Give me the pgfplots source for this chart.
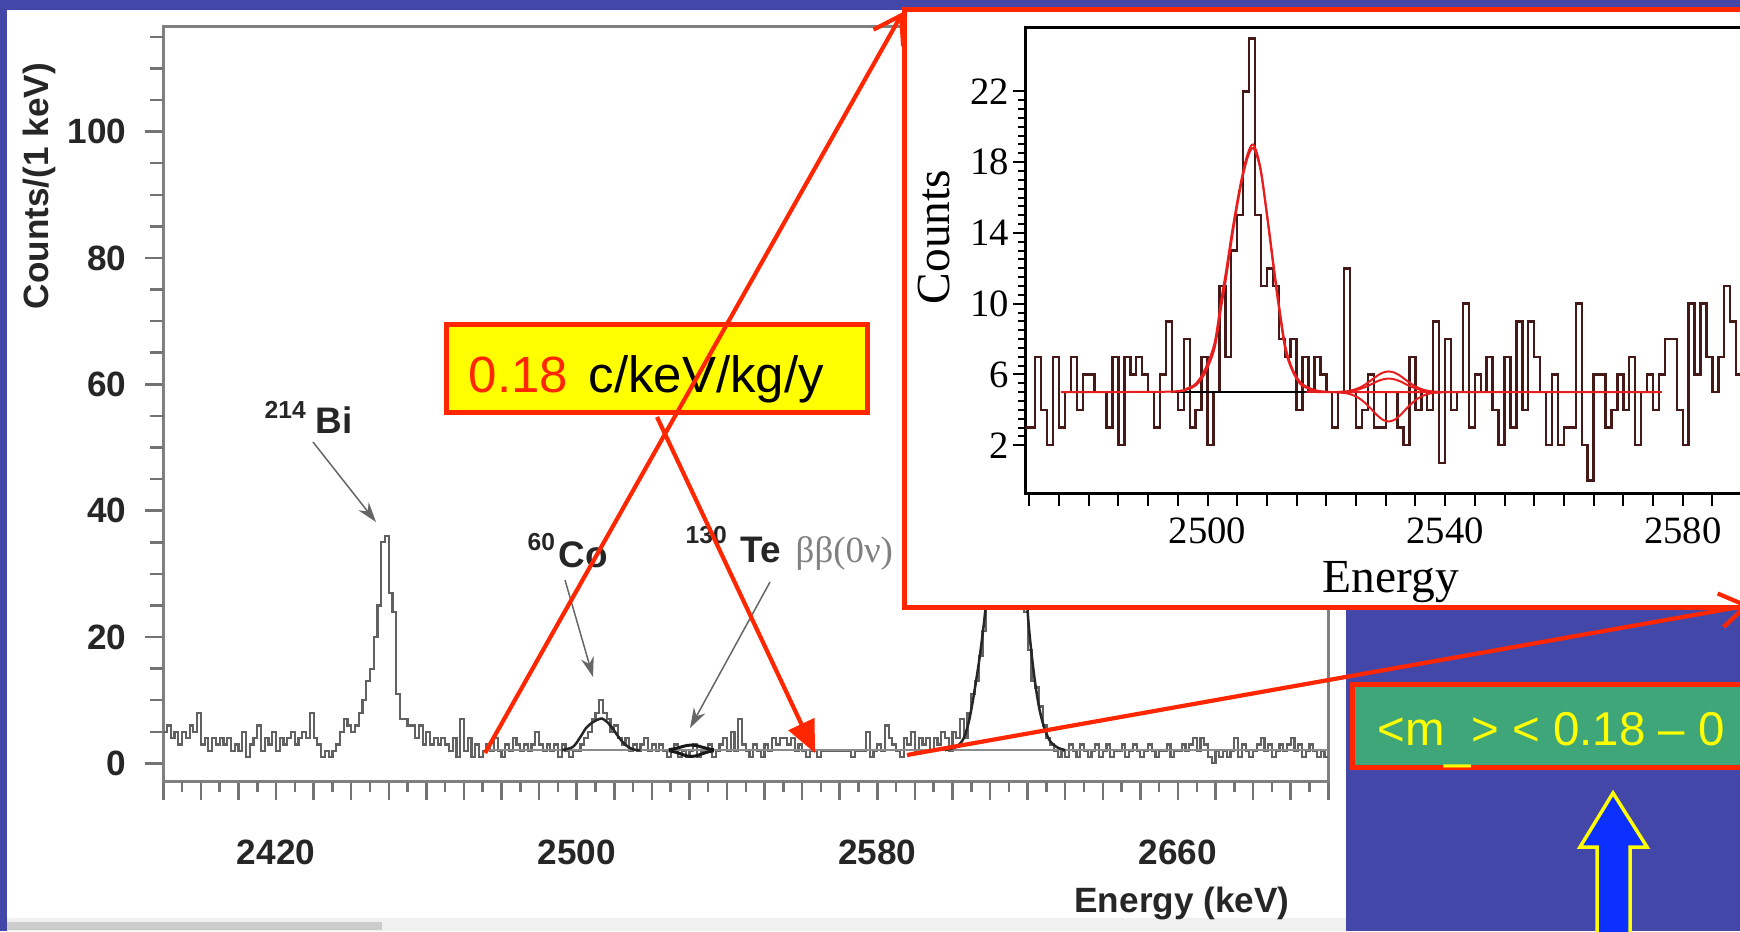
\documentclass[border=0pt]{standalone}
\usepackage{pgfplots}
\pgfplotsset{compat=1.18}
\usepackage{fontspec}
\setmainfont{Liberation Sans}
\newfontfamily\seriffont{Liberation Serif}
\usetikzlibrary{arrows.meta}
\definecolor{slideblue}{RGB}{67,71,168}
\definecolor{hotred}{RGB}{255,38,0}
\definecolor{boxyellow}{RGB}{255,255,0}
\definecolor{boxgreen}{RGB}{63,166,122}
\definecolor{arrowblue}{RGB}{12,48,255}
\definecolor{histbrown}{RGB}{70,25,25}
\definecolor{fitred}{RGB}{232,30,30}
\begin{document}
\begin{tikzpicture}
\useasboundingbox (0,0) rectangle (174mm,93.1mm);
\clip (0,0) rectangle (174mm,93.1mm);
\fill[slideblue] (0,0) rectangle (174mm,93.1mm);
\begin{scope}[x=0.1mm,y=-0.1mm,shift={(0,93.1mm)}]
  \fill[white] (7,10) rectangle (1346,931);
  \fill[black!6] (7,918) rectangle (1346,931);
  \fill[black!20] (7,922) rectangle (382,930);
\end{scope}

% ---------------- main spectrum ----------------
\begin{axis}[
  at={(16.33mm,14.93mm)}, anchor=south west, scale only axis,
  width=116.5mm, height=75.5mm,
  xmin=2390, xmax=2700, ymin=-2.9, ymax=116.6,
  xtick={2420,2500,2580,2660},
  minor xtick={2390,2400,...,2700},
  extra x ticks={2395,2405,...,2695},
  extra x tick labels={},
  extra x tick style={major tick length=1.0mm},
  ytick={0,20,...,100},
  extra y ticks={5,10,15,25,30,35,45,50,55,65,70,75,85,90,95,105,110,115},
  extra y tick labels={},
  extra y tick style={major tick length=1.3mm},
  major tick length=1.8mm, minor tick length=1.8mm,
  tick align=outside, xtick pos=left, ytick pos=left,
  axis line style={black!50, line width=0.3mm},
  tick style={black!55, line width=0.25mm},
  tick label style={font=\bfseries\fontsize{10}{12}\selectfont, text=black!85},
  /pgf/number format/1000 sep={}, /pgf/number format/assume math mode=true,
  yticklabel style={xshift=-0.65mm},
  xticklabel style={yshift=-2.8mm},
  xlabel={Energy (keV)}, ylabel={Counts/(1 keV)},
  xlabel style={at={(axis description cs:0.8744,-0.161)}, anchor=center, font=\bfseries\fontsize{10}{12}\selectfont, text=black!85},
  ylabel style={at={(axis description cs:-0.1067,0.789)}, anchor=center, font=\bfseries\fontsize{10}{12}\selectfont, text=black!85},
]
\addplot[const plot, black!62, line width=0.22mm] coordinates {
(2390,5)(2391,6)(2392,4)(2393,5)(2394,3)(2395,5)(2396,4)(2397,6)(2398,5)(2399,8)
(2400,3)(2401,4)(2402,2)(2403,4)(2404,3)(2405,4)(2406,3)(2407,4)(2408,2)(2409,3)
(2410,2)(2411,5)(2412,1)(2413,3)(2414,4)(2415,6)(2416,2)(2417,4)(2418,3)(2419,5)
(2420,2)(2421,4)(2422,3)(2423,4)(2424,5)(2425,3)(2426,4)(2427,5)(2428,4)(2429,8)
(2430,4)(2431,3)(2432,1)(2433,2)(2434,1)(2435,2)(2436,3)(2437,5)(2438,7)(2439,6)
(2440,5)(2441,6)(2442,8)(2443,10)(2444,13)(2445,15)(2446,20)(2447,25)(2448,35)(2449,36)
(2450,27)(2451,24)(2452,11)(2453,7)(2454,7)(2455,6)(2456,6)(2457,4)(2458,6)(2459,3)
(2460,5)(2461,3)(2462,4)(2463,3)(2464,4)(2465,3)(2466,2)(2467,4)(2468,1)(2469,7)
(2470,2)(2471,4)(2472,1)(2473,3)(2474,1)(2475,2)(2476,3)(2477,2)(2478,4)(2479,2)
(2480,1)(2481,3)(2482,2)(2483,4)(2484,3)(2485,2)(2486,3)(2487,2)(2488,3)(2489,5)
(2490,3)(2491,2)(2492,3)(2493,2)(2494,3)(2495,1)(2496,3)(2497,2)(2498,1)(2499,2)
(2500,2)(2501,3)(2502,4)(2503,5)(2504,7)(2505,8)(2506,10)(2507,8)(2508,7)(2509,5)
(2510,6)(2511,4)(2512,3)(2513,4)(2514,2)(2515,3)(2516,2)(2517,3)(2518,4)(2519,2)
(2520,3)(2521,2)(2522,3)(2523,2)(2524,1)(2525,2)(2526,3)(2527,1)(2528,2)(2529,1)
(2530,2)(2531,3)(2532,1)(2533,2)(2534,2)(2535,3)(2536,1)(2537,2)(2538,3)(2539,4)
(2540,2)(2541,5)(2542,2)(2543,7)(2544,3)(2545,2)(2546,1)(2547,3)(2548,2)(2549,1)
(2550,3)(2551,2)(2552,4)(2553,3)(2554,4)(2555,4)(2556,3)(2557,4)(2558,2)(2559,3)
(2560,2)(2561,1)(2562,2)(2563,2)(2564,1)(2565,2)(2566,2)(2567,2)(2568,2)(2569,2)
(2570,2)(2571,2)(2572,2)(2573,1)(2574,2)(2575,2)(2576,2)(2577,5)(2578,1)(2579,2)
(2580,3)(2581,2)(2582,6)(2583,4)(2584,3)(2585,2)(2586,1)(2587,4)(2588,3)(2589,5)
(2590,2)(2591,4)(2592,3)(2593,4)(2594,2)(2595,4)(2596,3)(2597,5)(2598,4)(2599,2)
(2600,5)(2601,4)(2602,7)(2603,4)(2604,8)(2605,11)(2606,13)(2607,17)(2608,21)(2609,28)
(2610,42)(2611,62)(2612,80)(2613,92)(2614,96)(2615,88)(2616,68)(2617,48)(2618,33)(2619,24)
(2620,18)(2621,13)(2622,12)(2623,9)(2624,6)(2625,4)(2626,3)(2627,2)(2628,1)(2629,2)
(2630,1)(2631,3)(2632,2)(2633,1)(2634,3)(2635,2)(2636,1)(2637,2)(2638,3)(2639,1)
(2640,2)(2641,3)(2642,1)(2643,2)(2644,2)(2645,3)(2646,1)(2647,2)(2648,3)(2649,2)
(2650,1)(2651,2)(2652,3)(2653,2)(2654,1)(2655,2)(2656,2)(2657,3)(2658,1)(2659,2)
(2660,2)(2661,3)(2662,2)(2663,3)(2664,4)(2665,2)(2666,4)(2667,3)(2668,1)(2669,0)
(2670,2)(2671,1)(2672,2)(2673,1)(2674,2)(2675,4)(2676,1)(2677,3)(2678,2)(2679,1)
(2680,2)(2681,3)(2682,4)(2683,2)(2684,3)(2685,1)(2686,2)(2687,3)(2688,2)(2689,3)
(2690,4)(2691,2)(2692,3)(2693,1)(2694,2)(2695,3)(2696,2)(2697,1)(2698,2)(2699,1)(2700,1)};
% flat background of the fit
\addplot[black!45, line width=0.22mm] coordinates {(2476,2.1) (2700,2.1)};
% 60Co fit
\addplot[black!85, line width=0.25mm, smooth] coordinates {(2496,2.1)(2499,2.6)(2501,4.2)(2502.5,5.6)(2504,6.4)(2505.5,6.9)(2506.7,7.1)(2508,6.6)(2509.5,5.6)(2511,4.3)(2512.5,3.2)(2514,2.5)(2515.5,2.15)(2517,2.1)};
% 0nu fit band
\addplot[black!90, line width=0.3mm, smooth] coordinates {(2524.5,2.18)(2525.5,2.26)(2526.5,2.39)(2527.5,2.55)(2528.5,2.72)(2529.5,2.85)(2530.5,2.9)(2531.5,2.85)(2532.5,2.72)(2533.5,2.55)(2534.5,2.39)(2535.5,2.26)(2536.5,2.18)};
\addplot[black!90, line width=0.3mm, smooth] coordinates {(2524.5,2.0)(2525.5,1.9)(2526.5,1.74)(2527.5,1.54)(2528.5,1.33)(2529.5,1.16)(2530.5,1.1)(2531.5,1.16)(2532.5,1.33)(2533.5,1.54)(2534.5,1.74)(2535.5,1.9)(2536.5,2.0)};
% 208Tl fit
\addplot[black!85, line width=0.25mm, smooth] coordinates {(2598,2.1)(2601,2.6)(2603,4)(2604.5,7)(2606,12)(2607.5,18)(2609,26)(2610.5,40)(2612,60)(2614.5,90)(2617,60)(2618.5,40)(2620,24)(2621.5,15)(2623,9)(2624.5,5.5)(2626,3.5)(2628,2.5)(2630,2.1)};
\end{axis}

% ---------------- annotations of the main spectrum ----------------
\begin{scope}[x=0.1mm,y=-0.1mm,shift={(0,93.1mm)}]
  \node[anchor=base west, inner sep=0, font=\bfseries\fontsize{7}{8}\selectfont, text=black!85] at (264,418) {214};
  \node[anchor=base west, inner sep=0, font=\bfseries\fontsize{10.5}{12}\selectfont, text=black!85] at (315,433) {Bi};
  \draw[black!60, line width=0.15mm, -{Stealth[length=2mm,width=1.3mm]}] (313,442) -- (376,522);
  \node[anchor=base west, inner sep=0, font=\bfseries\fontsize{7}{8}\selectfont, text=black!85] at (527,550) {60};
  \node[anchor=base west, inner sep=0, font=\bfseries\fontsize{10.5}{12}\selectfont, text=black!85] at (558,567) {Co};
  \draw[black!60, line width=0.15mm, -{Stealth[length=2mm,width=1.3mm]}] (565,580) -- (593,677);
  \node[anchor=base west, inner sep=0, font=\bfseries\fontsize{7}{8}\selectfont, text=black!85] at (685,543) {130};
  \node[anchor=base west, inner sep=0, font=\bfseries\fontsize{10.5}{12}\selectfont, text=black!85] at (740,562) {Te};
  \node[anchor=base west, inner sep=0, font=\seriffont\fontsize{10.5}{12}\selectfont, text=black!50] at (795,562) {ββ(0ν)};
  \draw[black!60, line width=0.15mm, -{Stealth[length=2mm,width=1.3mm]}] (770,582) -- (690,728);
  % yellow box
  \draw[hotred, line width=0.5mm, fill=boxyellow] (446,324) rectangle (867,412.5);
  \node[anchor=base west, inner sep=0, font=\fontsize{14.5}{17}\selectfont, text=hotred] at (468,392) {0.18};
  \node[anchor=base west, inner sep=0, font=\fontsize{14.5}{17}\selectfont, text=black] at (588,392) {c/keV/kg/y};
  % inset frame
  \draw[hotred, line width=0.55mm, fill=white] (904.5,9.5) rectangle (1770,607.5);
\end{scope}

% ---------------- inset ----------------
\begin{axis}[
  at={(102.54mm,43.75mm)}, anchor=south west, scale only axis,
  width=77.61mm, height=46.58mm,
  xmin=2469.34, xmax=2600, ymin=-0.73, ymax=25.6,
  xtick={2470,2475,...,2600},
  xticklabels={,,,,,,2500,,,,,,,,2540,,,,,,,,2580,,,,},
  ytick={2,6,...,22}, minor y tick num=7,
  major tick length=1.2mm, minor tick length=0.7mm,
  tick align=outside, xtick pos=left, ytick pos=left,
  axis line style={black, line width=0.25mm},
  tick style={black, line width=0.2mm},
  tick label style={font=\seriffont\fontsize{11}{13}\selectfont},
  /pgf/number format/1000 sep={}, /pgf/number format/assume math mode=true,
  yticklabel style={xshift=0.8mm},
  xlabel={Energy}, ylabel={Counts},
  xlabel style={at={(axis description cs:0.4707,-0.19)}, anchor=center, font=\seriffont\fontsize{13.5}{16}\selectfont},
  ylabel style={at={(axis description cs:-0.1178,0.5507)}, anchor=center, font=\seriffont\fontsize{13.5}{16}\selectfont},
]
\addplot[const plot, histbrown, line width=0.24mm] coordinates {
(2469,3)(2470,3)(2471,7)(2472,4)(2473,2)(2474,7)(2475,3)(2476,5)(2477,7)(2478,4)
(2479,6)(2480,6)(2481,5)(2482,5)(2483,3)(2484,7)(2485,2)(2486,7)(2487,6)(2488,7)
(2489,6)(2490,5)(2491,3)(2492,6)(2493,9)(2494,5)(2495,4)(2496,8)(2497,3)(2498,4)
(2499,7)(2500,2)(2501,5)(2502,11)(2503,7)(2504,13)(2505,15)(2506,22)(2507,25)(2508,15)
(2509,11)(2510,12)(2511,11)(2512,8)(2513,7)(2514,8)(2515,4)(2516,7)(2517,5)(2518,7)
(2519,6)(2520,5)(2521,3)(2522,5)(2523,12)(2524,5)(2525,3)(2526,4)(2527,6)(2528,3)
(2529,3)(2530,5)(2531,5)(2532,3)(2533,2)(2534,7)(2535,4)(2536,5)(2537,4)(2538,9)
(2539,1)(2540,8)(2541,4)(2542,5)(2543,10)(2544,3)(2545,6)(2546,5)(2547,7)(2548,4)
(2549,2)(2550,7)(2551,3)(2552,9)(2553,4)(2554,9)(2555,7)(2556,5)(2557,2)(2558,6)
(2559,2)(2560,3)(2561,3)(2562,10)(2563,2)(2564,0)(2565,6)(2566,6)(2567,3)(2568,4)
(2569,6)(2570,4)(2571,7)(2572,2)(2573,5)(2574,6)(2575,4)(2576,6)(2577,8)(2578,8)
(2579,4)(2580,2)(2581,10)(2582,6)(2583,10)(2584,7)(2585,5)(2586,7)(2587,11)(2588,9)
(2589,6)(2590,8)(2591,5)(2592,5)};
\addplot[black, line width=0.25mm] coordinates {(2494.2,5) (2537.5,5)};
\addplot[fitred, line width=0.2mm, smooth] coordinates {(2475.3,5)(2494.2,5.03)(2496.5,5.2)(2498.1,5.5)(2499.6,6.3)(2501.2,7.8)(2502.3,10.2)(2503.1,11.8)(2504.2,14.2)(2505.4,16.5)(2506.6,18.3)(2507.7,19.0)(2508.9,17.7)(2510.0,15.0)(2511.2,11.8)(2512.0,9.8)(2513.1,7.4)(2514.3,6.2)(2515.8,5.4)(2518.2,5.1)(2521.2,5.0)(2576.5,5.0)};
\addplot[fitred, line width=0.2mm, smooth] coordinates {(2494.2,5.02)(2496.5,5.15)(2498.1,5.4)(2499.6,6.1)(2501.2,7.5)(2502.3,9.8)(2503.1,11.4)(2504.2,13.9)(2505.4,16.3)(2506.6,18.1)(2507.7,18.8)(2508.9,17.6)(2510.0,15.1)(2511.2,12.0)(2512.0,10.0)(2513.1,7.6)(2514.3,6.3)(2515.8,5.5)(2518.2,5.1)(2521.2,5.0)};
\addplot[fitred, line width=0.2mm, smooth] coordinates {(2521.5,5.0)(2522.5,5.02)(2523.5,5.05)(2524.5,5.12)(2525.5,5.24)(2526.5,5.42)(2527.5,5.66)(2528.5,5.91)(2529.5,6.1)(2530.5,6.17)(2531.5,6.1)(2532.5,5.91)(2533.5,5.66)(2534.5,5.42)(2535.5,5.24)(2536.5,5.12)(2537.5,5.05)(2538.5,5.02)(2539.5,5.0)};
\addplot[fitred, line width=0.2mm, smooth] coordinates {(2521.5,5.0)(2522.5,5.01)(2523.5,5.03)(2524.5,5.08)(2525.5,5.16)(2526.5,5.28)(2527.5,5.43)(2528.5,5.6)(2529.5,5.72)(2530.5,5.77)(2531.5,5.72)(2532.5,5.6)(2533.5,5.43)(2534.5,5.28)(2535.5,5.16)(2536.5,5.08)(2537.5,5.03)(2538.5,5.01)(2539.5,5.0)};
\addplot[fitred, line width=0.2mm, smooth] coordinates {(2521.5,5.0)(2522.5,4.97)(2523.5,4.93)(2524.5,4.83)(2525.5,4.66)(2526.5,4.4)(2527.5,4.07)(2528.5,3.71)(2529.5,3.44)(2530.5,3.34)(2531.5,3.44)(2532.5,3.71)(2533.5,4.07)(2534.5,4.4)(2535.5,4.66)(2536.5,4.83)(2537.5,4.93)(2538.5,4.97)(2539.5,5.0)};
\end{axis}

% ---------------- slide elements on top ----------------
\begin{scope}[x=0.1mm,y=-0.1mm,shift={(0,93.1mm)}]
  \draw[hotred, line width=0.5mm, fill=boxgreen] (1352.5,684) rectangle (1780,767.5);
  \node[anchor=base west, inner sep=0, font=\fontsize{13.5}{16}\selectfont, text=boxyellow] at (1377,745)
     {<m\raisebox{-0.28em}{\_}> < 0.18 – 0};
  \draw[boxyellow, line width=0.35mm, fill=arrowblue]
     (1613,793) -- (1647,847) -- (1630,847) -- (1630,945) -- (1597,945) -- (1597,847) -- (1580,847) -- cycle;
  \draw[hotred, line width=0.42mm, -{Straight Barb[length=2.6mm,width=3.4mm]}] (485,753) -- (903,12);
  \draw[hotred, line width=0.42mm, -{Triangle[length=3.2mm,width=2.8mm]}] (657,417) -- (815,753);
  \draw[hotred, line width=0.42mm, -{Straight Barb[length=2.6mm,width=3.4mm]}] (907,755) -- (1750,605);
\end{scope}
\end{tikzpicture}
\end{document}
